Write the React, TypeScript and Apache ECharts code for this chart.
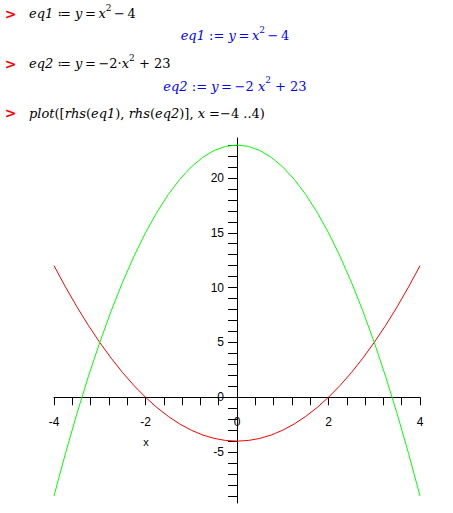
import React, { useEffect, useRef } from "react";
import * as echarts from "echarts";

// Sampled x values and the two plotted expressions read from the worksheet
const xValues = [
  -4, -3.75, -3.5, -3.25, -3, -2.75, -2.5, -2.25, -2, -1.75, -1.5, -1.25, -1, -0.75, -0.5, -0.25,
  0, 0.25, 0.5, 0.75, 1, 1.25, 1.5, 1.75, 2, 2.25, 2.5, 2.75, 3, 3.25, 3.5, 3.75, 4,
];
const redValues = [
  12, 10.0625, 8.25, 6.5625, 5, 3.5625, 2.25, 1.0625, 0, -0.9375, -1.75, -2.4375, -3, -3.4375, -3.75, -3.9375,
  -4, -3.9375, -3.75, -3.4375, -3, -2.4375, -1.75, -0.9375, 0, 1.0625, 2.25, 3.5625, 5, 6.5625, 8.25, 10.0625, 12,
];
const greenValues = [
  -9, -5.125, -1.5, 1.875, 5, 7.875, 10.5, 12.875, 15, 16.875, 18.5, 19.875, 21, 21.875, 22.5, 22.875,
  23, 22.875, 22.5, 21.875, 21, 19.875, 18.5, 16.875, 15, 12.875, 10.5, 7.875, 5, 1.875, -1.5, -5.125, -9,
];
const xTickValues = [
  -4, -3.6, -3.2, -2.8, -2.4, -2, -1.6, -1.2, -0.8, -0.4, 0, 0.4, 0.8, 1.2, 1.6, 2, 2.4, 2.8, 3.2, 3.6, 4,
];
const xLabelValues = [-4, -2, 0, 2, 4];
const yTickValues = [
  -9, -8, -7, -6, -5, -4, -3, -2, -1, 0, 1, 2, 3, 4, 5, 6, 7, 8, 9, 10, 11, 12, 13, 14, 15, 16, 17, 18, 19, 20, 21, 22, 23,
];
const yLabelValues = [-5, 0, 5, 10, 15, 20];

const T = "\u2009"; // thin space
const worksheetLines = [
  { kind: "input", text: `{i|eq1} {n|≔} {i|y}{n|${T}=${T}}{i|x}{s|2}{n|${T}−${T}4}` },
  { kind: "output", text: `{i|eq1} {n|:=} {i|y}{n|${T}=${T}}{i|x}{s|2}{n|${T}−${T}4}` },
  { kind: "input", text: `{i|eq2} {n|≔} {i|y}{n|${T}=${T}−2·}{i|x}{s|2}{n| + 23}` },
  { kind: "output", text: `{i|eq2} {n|:=} {i|y}{n|${T}=${T}−2} {i|x}{s|2}{n| + 23}` },
  {
    kind: "input",
    text: "{i|plot}{n|([}{i|rhs}{n|(}{i|eq1}{n|),} {i|rhs}{n|(}{i|eq2}{n|)],} {i|x} {n|=−4 ..4)}",
  },
];

const SERIF = "'DejaVu Serif', 'Liberation Serif', serif";
const SANS = "'Liberation Sans', Arial, sans-serif";

const X_MIN = -4;
const X_MAX = 4;
const Y_MIN = -9.64;
const Y_MAX = 23.64;
const W = 453;
const H = 513;
const GRID = { left: 54, right: 33, top: 138, bottom: 10 };

function makeRich(color: string) {
  return {
    i: { fontFamily: SERIF, fontSize: 13, fontStyle: "italic", fill: color, lineHeight: 21 },
    n: { fontFamily: SERIF, fontSize: 13, fontStyle: "normal", fill: color, lineHeight: 21 },
    s: { fontFamily: SERIF, fontSize: 9, fontStyle: "normal", fill: color, lineHeight: 9, verticalAlign: "top" },
  };
}

export default function App() {
  const ref = useRef<HTMLDivElement>(null);

  useEffect(() => {
    if (!ref.current) return;
    const chart = echarts.init(ref.current, null, { renderer: "svg" });

    const gridW = W - GRID.left - GRID.right;
    const gridH = H - GRID.top - GRID.bottom;
    // shift both axes so they cross at the origin, as in the worksheet plot
    const yAxisOffset = -((0 - X_MIN) / (X_MAX - X_MIN)) * gridW;
    const xAxisOffset = -((0 - Y_MIN) / (Y_MAX - Y_MIN)) * gridH;

    const lineCenters = [13.5, 35.5, 63.5, 86, 113];
    const graphics: any[] = [];
    worksheetLines.forEach((ln, idx) => {
      const isInput = ln.kind === "input";
      const color = isInput ? "#000000" : "#0000ff";
      if (isInput) {
        graphics.push({
          type: "text",
          x: 10.5,
          y: lineCenters[idx],
          style: {
            text: ">",
            fill: "#ff0000",
            fontFamily: "'DejaVu Sans', sans-serif",
            fontSize: 14,
            fontWeight: "bold",
            align: "center",
            verticalAlign: "middle",
          },
        });
      }
      graphics.push({
        type: "text",
        x: isInput ? 29 : 235,
        y: lineCenters[idx],
        style: {
          text: ln.text,
          rich: makeRich(color),
          fill: color,
          fontFamily: SERIF,
          fontSize: 13,
          align: isInput ? "left" : "center",
          verticalAlign: "middle",
        },
      });
    });
    graphics.push({
      type: "text",
      x: 146,
      y: 442,
      style: {
        text: "x",
        fill: "#000",
        fontFamily: SANS,
        fontSize: 11,
        align: "center",
        verticalAlign: "middle",
      },
    });

    chart.setOption({
      animation: false,
      backgroundColor: "#ffffff",
      grid: { ...GRID, containLabel: false, outerBoundsMode: "none" },
      xAxis: {
        type: "value",
        min: X_MIN,
        max: X_MAX,
        offset: xAxisOffset,
        axisLine: { show: true, onZero: false, lineStyle: { color: "#000", width: 1 } },
        axisTick: { show: true, length: 8, customValues: xTickValues, lineStyle: { color: "#000", width: 1 } },
        axisLabel: {
          show: true,
          customValues: xLabelValues,
          margin: 19,
          color: "#000",
          fontFamily: SANS,
          fontSize: 12,
        },
        splitLine: { show: false },
      },
      yAxis: {
        type: "value",
        min: Y_MIN,
        max: Y_MAX,
        offset: yAxisOffset,
        axisLine: { show: true, onZero: false, lineStyle: { color: "#000", width: 1 } },
        axisTick: { show: true, length: 9, customValues: yTickValues, lineStyle: { color: "#000", width: 1 } },
        axisLabel: {
          show: true,
          customValues: yLabelValues,
          margin: 13,
          color: "#000",
          fontFamily: SANS,
          fontSize: 12,
        },
        splitLine: { show: false },
      },
      graphic: graphics,
      series: [
        {
          name: "rhs(eq1)",
          type: "line",
          data: xValues.map((x, k) => [x, redValues[k]]),
          showSymbol: false,
          symbol: "none",
          lineStyle: { color: "#ff0000", width: 1 },
          itemStyle: { color: "#ff0000" },
          z: 3,
        },
        {
          name: "rhs(eq2)",
          type: "line",
          data: xValues.map((x, k) => [x, greenValues[k]]),
          showSymbol: false,
          symbol: "none",
          lineStyle: { color: "#00ff00", width: 1 },
          itemStyle: { color: "#00ff00" },
          z: 3,
        },
      ],
    });

    return () => {
      chart.dispose();
    };
  }, []);

  return (
    <div
      ref={ref}
      style={{ position: "fixed", left: 0, top: 0, width: W, height: H, background: "#fff" }}
    />
  );
}
